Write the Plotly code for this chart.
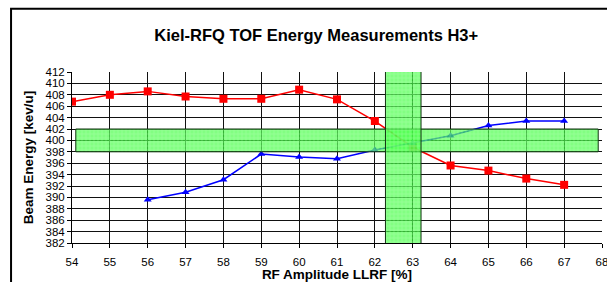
import plotly.graph_objects as go

rf_red = [54, 55, 56, 57, 58, 59, 60, 61, 62, 63, 64, 65, 66, 67]
energy_red = [406.8, 408.0, 408.6, 407.7, 407.3, 407.3, 408.9, 407.2, 403.4, 398.8, 395.6, 394.7, 393.3, 392.2]

rf_blue = [56, 57, 58, 59, 60, 61, 62, 63, 64, 65, 66, 67]
energy_blue = [389.6, 390.9, 393.1, 397.6, 397.1, 396.8, 398.3, 399.5, 400.8, 402.6, 403.4, 403.4]

# target window bands
h_band_x = [54.1, 67.9]
h_band_y = [398, 402]
v_band_x = [62.28, 63.22]
v_band_y = [381.5, 412.1]

FONT = "Liberation Sans, Arial, sans-serif"

fig = go.Figure()

fig.add_trace(go.Scatter(
    x=rf_red, y=energy_red, mode="lines+markers",
    line=dict(color="#ff0000", width=1.5),
    marker=dict(symbol="square", size=8, color="#ff0000"),
    showlegend=False))
fig.add_trace(go.Scatter(
    x=rf_blue, y=energy_blue, mode="lines+markers",
    line=dict(color="#0000ff", width=1.5),
    marker=dict(symbol="triangle-up", size=7, color="#0000ff"),
    showlegend=False))

band_pattern = dict(shape="+", bgcolor="rgba(70,255,70,0.68)",
                    fgcolor="rgba(200,255,200,0.75)", size=4, solidity=0.3)

def band(xr, yr):
    return go.Scatter(
        x=[xr[0], xr[1], xr[1], xr[0], xr[0]],
        y=[yr[0], yr[0], yr[1], yr[1], yr[0]],
        mode="lines", fill="toself",
        fillcolor="rgba(70,255,70,0.68)",
        fillpattern=band_pattern,
        line=dict(color="#113311", width=1),
        hoverinfo="skip", showlegend=False)

fig.add_trace(band(h_band_x, h_band_y))
fig.add_trace(band(v_band_x, v_band_y))

fig.update_xaxes(
    range=[54, 68], dtick=1, tick0=54,
    showgrid=True, gridcolor="#111111", gridwidth=1,
    showline=True, linecolor="black", linewidth=1,
    ticks="outside", ticklen=4, tickcolor="black",
    ticklabelstandoff=4, ticklabeloverflow="allow",
    tickfont=dict(family=FONT, size=11.5, color="black"),
    title=dict(text="<b>RF Amplitude LLRF [%]</b>", standoff=4,
               font=dict(family=FONT, size=13.5, color="black")),
    zeroline=False, automargin=False, mirror=False)

fig.update_yaxes(
    range=[382, 412], dtick=2, tick0=382,
    showgrid=True, gridcolor="#111111", gridwidth=1,
    showline=True, linecolor="black", linewidth=1,
    ticks="outside", ticklen=4, tickcolor="black",
    tickfont=dict(family=FONT, size=11.5, color="black"),
    title=dict(text="<b>Beam Energy [kev/u]</b>", standoff=8,
               font=dict(family=FONT, size=13.5, color="black")),
    zeroline=False, automargin=False)

fig.add_shape(type="rect", xref="paper", yref="paper",
              x0=-0.115, x1=1.3, y0=-0.6, y1=1.3697,
              line=dict(color="black", width=2), layer="above")

fig.update_layout(
    width=607, height=282,
    margin=dict(l=72, r=5, t=72, b=39, pad=0),
    paper_bgcolor="white", plot_bgcolor="white",
    title=dict(text="<b>Kiel-RFQ TOF Energy Measurements H3+</b>",
               x=0.521, xanchor="center", y=1 - 35 / 282, yanchor="middle",
               yref="container",
               font=dict(family=FONT, size=16.5, color="black")),
    showlegend=False,
)

fig.write_html("out.html", config={"displayModeBar": False},
               post_script="document.body.style.margin='0';document.body.style.overflow='hidden';")
